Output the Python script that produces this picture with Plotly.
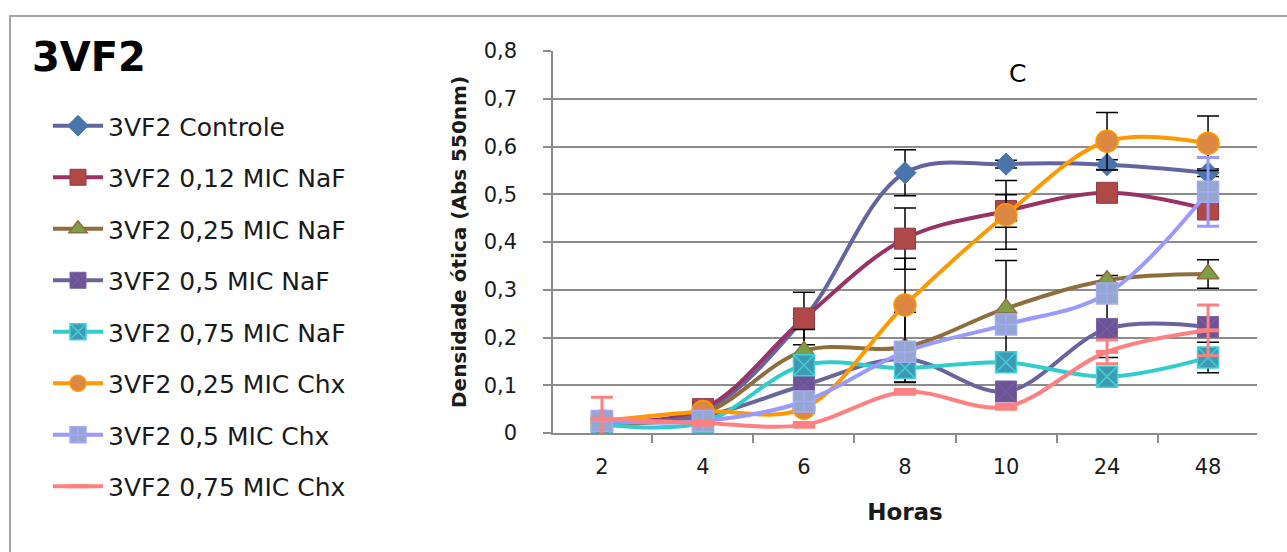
import plotly.graph_objects as go

hours = ["2", "4", "6", "8", "10", "24", "48"]

names = [
    "3VF2 Controle",
    "3VF2 0,12 MIC NaF",
    "3VF2 0,25 MIC NaF",
    "3VF2 0,5 MIC NaF",
    "3VF2 0,75 MIC NaF",
    "3VF2 0,25 MIC Chx",
    "3VF2 0,5 MIC Chx",
    "3VF2 0,75 MIC Chx",
]

controle = [0.025, 0.045, 0.240, 0.545, 0.563, 0.562, 0.545]
naf_012 = [0.025, 0.050, 0.240, 0.407, 0.465, 0.503, 0.468]
naf_025 = [0.020, 0.040, 0.172, 0.180, 0.261, 0.320, 0.333]
naf_05 = [0.022, 0.035, 0.100, 0.155, 0.087, 0.218, 0.222]
naf_075 = [0.018, 0.022, 0.142, 0.136, 0.148, 0.118, 0.158]
chx_025 = [0.025, 0.045, 0.052, 0.268, 0.457, 0.611, 0.607]
chx_05 = [0.025, 0.025, 0.066, 0.170, 0.227, 0.292, 0.505]
chx_075 = [0.030, 0.021, 0.017, 0.086, 0.055, 0.170, 0.215]

err_controle = [0.005, 0.005, 0.055, 0.048, 0.008, 0.010, 0.008]
err_naf_012 = [0.005, 0.005, 0.010, 0.064, 0.034, 0.008, 0.008]
err_naf_025 = [0.005, 0.005, 0.045, 0.073, 0.100, 0.010, 0.030]
err_naf_05 = [0.005, 0.005, 0.010, 0.010, 0.020, 0.060, 0.010]
err_naf_075 = [0.005, 0.005, 0.010, 0.030, 0.010, 0.010, 0.032]
err_chx_025 = [0.005, 0.005, 0.010, 0.098, 0.072, 0.060, 0.057]
err_chx_05 = [0.005, 0.005, 0.010, 0.010, 0.010, 0.010, 0.072]
err_chx_075 = [0.045, 0.005, 0.005, 0.005, 0.005, 0.025, 0.053]

series = [controle, naf_012, naf_025, naf_05, naf_075, chx_025, chx_05, chx_075]
errors = [err_controle, err_naf_012, err_naf_025, err_naf_05, err_naf_075,
          err_chx_025, err_chx_05, err_chx_075]

styles = [
    dict(line="#63659F", symbol="diamond", size=17, fill="#4A74AC", mline="#4A74AC", mw=1, err="#000000", et=1.5),
    dict(line="#993366", symbol="square", size=21, fill="#B04848", mline="#8E3A4E", mw=1, err="#000000", et=1.5),
    dict(line="#8D6E3C", symbol="triangle-up", size=19, fill="#7E9F48", mline="#8D6E3C", mw=1.5, err="#000000", et=1.5),
    dict(line="#6A649E", symbol="square-x", size=21, fill="#6C5497", mline="#7B63A8", mw=1, err="#000000", et=1.5),
    dict(line="#33CCCC", symbol="square-x", size=21, fill="#3D9AB2", mline="#40D0D8", mw=1.5, err="#000000", et=1.5),
    dict(line="#FF9900", symbol="circle", size=22, fill="#DB8842", mline="#FF9900", mw=1.5, err="#000000", et=1.5),
    dict(line="#9999FF", symbol="square-cross", size=21, fill="#94A7CF", mline="#A6A6FF", mw=1.5, err="#9999FF", et=3),
    dict(line="#FF8080", symbol="line-ew", size=16, fill="#FF8080", mline="#FF8080", mw=4, err="#FF8080", et=3),
]

fig = go.Figure()
for i, (nm, ys, er, st) in enumerate(zip(names, series, errors, styles)):
    fig.add_trace(go.Scatter(
        x=hours, y=ys, name=nm, mode="lines+markers",
        legendgroup=f"g{i}",
        line=dict(color=st["line"], width=4, shape="spline", smoothing=1),
        marker=dict(symbol=st["symbol"], size=st["size"], color=st["fill"],
                    line=dict(color=st["mline"], width=st["mw"])),
        error_y=dict(type="data", array=er, visible=True, color=st["err"],
                     thickness=st["et"], width=11),
    ))

L, R, T, B = 553, 30, 51, 119
W, H = 1287, 552
pw, ph = W - L - R, H - T - B

fig.update_layout(
    width=W, height=H,
    margin=dict(l=L, r=R, t=T, b=B, pad=0),
    paper_bgcolor="white", plot_bgcolor="white",
    separators=",.",
    font=dict(family="DejaVu Sans", color="#1a1a1a"),
    title=dict(text="<b>3VF2</b>", font=dict(family="DejaVu Sans", size=40, color="#000"),
               xref="container", yref="container", x=32 / W, xanchor="left",
               y=1 - 57 / H, yanchor="middle"),
    showlegend=True,
    legend=dict(x=(48 - L) / pw, xanchor="left", y=(H - B - 103) / ph, yanchor="top",
                font=dict(family="DejaVu Sans", size=25, color="#1a1a1a"),
                tracegroupgap=16, itemwidth=50, maxheight=540,
                bgcolor="rgba(0,0,0,0)"),
    xaxis=dict(type="category", categoryorder="array", categoryarray=hours,
               showline=True, linecolor="#8c8c8c", linewidth=1.5,
               ticks="outside", ticklen=8, tickcolor="#8c8c8c", tickwidth=1.5,
               tickson="boundaries", showgrid=False,
               tickfont=dict(family="DejaVu Sans", size=21, color="#1a1a1a"),
               ticklabelstandoff=14,
               title=dict(text="<b>Horas</b>", font=dict(family="DejaVu Sans", size=23, color="#1a1a1a"),
                          standoff=26)),
    yaxis=dict(range=[0, 0.8], dtick=0.1, tick0=0,
               showline=True, linecolor="#8c8c8c", linewidth=1.5,
               ticks="outside", ticklen=8, tickcolor="#8c8c8c", tickwidth=1.5,
               showgrid=True, gridcolor="#8c8c8c", gridwidth=1.5,
               zeroline=False,
               tickfont=dict(family="DejaVu Sans", size=21, color="#1a1a1a"),
               ticklabelstandoff=22,
               title=dict(text="<b>Densidade ótica (Abs 550nm)</b>",
                          font=dict(family="DejaVu Sans", size=20, color="#1a1a1a"),
                          standoff=12)),
    annotations=[dict(text="C", xref="paper", yref="paper",
                      x=(1017 - L) / pw, y=(H - B - 73) / ph,
                      xanchor="center", yanchor="middle",
                      showarrow=False, font=dict(family="DejaVu Sans", size=25, color="#000"))],
    shapes=[dict(type="rect", xref="paper", yref="paper",
                 x0=(10 - L) / pw, x1=(1300 - L) / pw,
                 y0=(H - B - 600) / ph, y1=(H - B - 16) / ph,
                 line=dict(color="#A6A6A6", width=2), layer="below")],
)

fig.write_html("out.html")
